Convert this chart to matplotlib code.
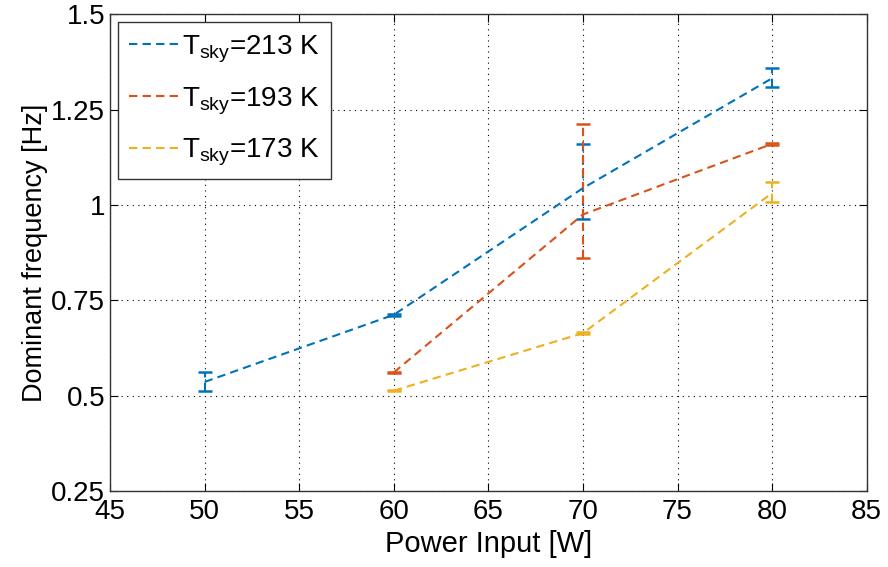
import matplotlib
matplotlib.use('Agg')
import matplotlib.pyplot as plt
import numpy as np

plt.rcParams['font.family'] = ['Liberation Sans', 'DejaVu Sans']
plt.rcParams['mathtext.fontset'] = 'custom'
plt.rcParams['mathtext.rm'] = 'Liberation Sans'

# power input [W]
power = [50, 60, 70, 80]
power_b = [60, 70, 80]

# dominant frequency [Hz], T_sky = 213 K
f213 = [0.536, 0.712, 1.044, 1.332]
f213_lo = [0.025, 0.003, 0.082, 0.022]
f213_hi = [0.025, 0.003, 0.115, 0.026]

# T_sky = 193 K
f193 = [0.561, 0.975, 1.160]
f193_lo = [0.002, 0.113, 0.002]
f193_hi = [0.002, 0.237, 0.002]

# T_sky = 173 K
f173 = [0.513, 0.664, 1.031]
f173_lo = [0.002, 0.002, 0.024]
f173_hi = [0.002, 0.002, 0.029]

labels = ['T$_{\\rm sky}$=213 K', 'T$_{\\rm sky}$=193 K', 'T$_{\\rm sky}$=173 K']
colors = ['#0072BD', '#D95319', '#EDB120']

fig = plt.figure(figsize=(8.88, 5.67), dpi=100)
ax = fig.add_axes([0.124, 0.134, 0.852, 0.841])

series = [(power, f213, f213_lo, f213_hi),
          (power_b, f193, f193_lo, f193_hi),
          (power_b, f173, f173_lo, f173_hi)]
handles = []
for (x, y, lo, hi), c, lab in zip(series, colors, labels):
    eb = ax.errorbar(x, y, yerr=[lo, hi], color=c, ls=(0, (4, 2.5)), lw=1.5,
                     capsize=5, elinewidth=1.5, capthick=1.8, label=lab)
    for lc in eb[2]:
        lc.set_linestyle((0, (4, 2.5)))
    h, = ax.plot([], [], color=c, ls=(0, (4, 2.5)), lw=1.5)
    handles.append(h)

ax.set_xlim(45, 85)
ax.set_ylim(0.25, 1.5)
ax.set_xticks(np.arange(45, 86, 5))
ax.set_yticks([0.25, 0.5, 0.75, 1, 1.25, 1.5])
ax.set_yticklabels(['0.25', '0.5', '0.75', '1', '1.25', '1.5'])
ax.tick_params(direction='in', labelsize=20, length=6, top=True, right=True)
ax.tick_params(axis='x', pad=6)
ax.grid(True, color='k', ls=(0, (1, 4)), lw=0.8)
for s in ax.spines.values():
    s.set_linewidth(1.0)
    s.set_color('#333333')

ax.set_xlabel('Power Input [W]', fontsize=21, labelpad=3)
ax.set_ylabel('Dominant frequency [Hz]', fontsize=19.5, labelpad=2)

leg = ax.legend(handles, labels, loc='upper left', fontsize=20, fancybox=False,
                framealpha=1, edgecolor='#333333', handlelength=1.8,
                handletextpad=0.1, borderpad=0.4, labelspacing=0.72,
                borderaxespad=0, bbox_to_anchor=(0.0106, 0.983))
leg.get_frame().set_linewidth(1.0)

fig.savefig('out.png', dpi=100)
